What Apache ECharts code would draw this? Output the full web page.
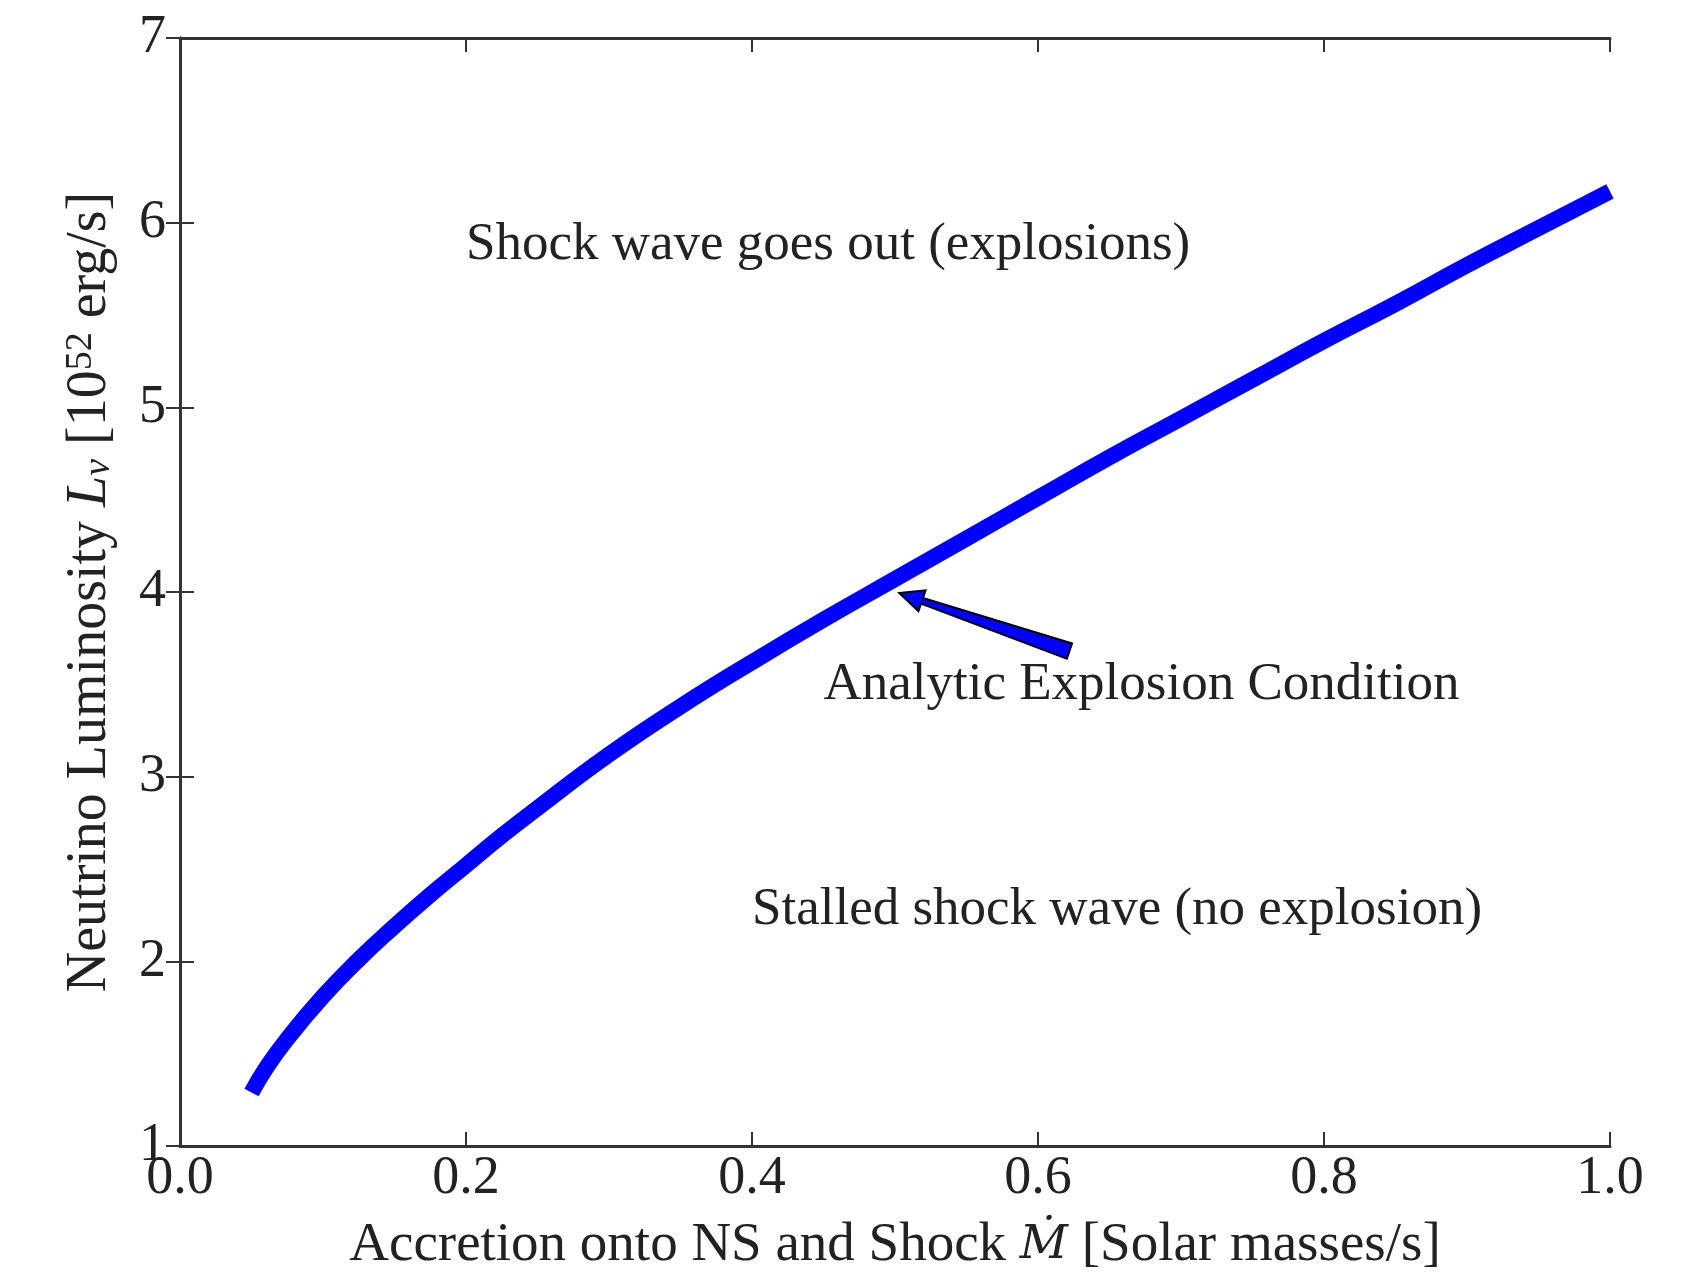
<!DOCTYPE html>
<html>
<head>
<meta charset="utf-8">
<title>Explosion condition</title>
<script src="https://cdn.jsdelivr.net/npm/echarts@6/dist/echarts.min.js"></script>
<style>
  html, body { margin: 0; padding: 0; background: #fff; }
  #chart { width: 1689px; height: 1282px; }
</style>
</head>
<body>
<div id="chart"></div>
<script>
// accretion rate [Msun/s] and critical luminosity [1e52 erg/s]
const mdot = [0.05, 0.06, 0.075, 0.1, 0.125, 0.15, 0.175, 0.2, 0.225, 0.25, 0.3, 0.35, 0.4, 0.45, 0.5,
  0.55, 0.6, 0.65, 0.7, 0.75, 0.8, 0.85, 0.9, 0.95, 1.0]
const lum = [1.29, 1.42, 1.58, 1.81, 2.01, 2.19, 2.36, 2.52, 2.68, 2.83, 3.12, 3.38, 3.62, 3.85, 4.07,
  4.29, 4.51, 4.73, 4.94, 5.15, 5.36, 5.56, 5.77, 5.97, 6.17]

const xTicks = [0.0, 0.2, 0.4, 0.6, 0.8, 1.0]
const yTicks = [1, 2, 3, 4, 5, 6, 7]

// annotations in data coords (text baseline-left)
const notes = [
  { text: 'Shock wave goes out (explosions)', pos: [0.2, 5.8] },
  { text: 'Analytic Explosion Condition', pos: [0.45, 3.42] },
  { text: 'Stalled shock wave (no explosion)', pos: [0.4, 2.2] }
]
const arrowTip = [0.503, 3.995]
const arrowTail = [0.622, 3.68]

const FONT = "'Liberation Serif', 'DejaVu Serif', serif"
const FS = 54
const INK = '#222'
const AXIS = '#333'

const chart = echarts.init(document.getElementById('chart'))

const baseAxis = {
  type: 'value',
  axisLine: { show: true, lineStyle: { color: AXIS, width: 3 } },
  axisTick: { show: true, inside: true, length: 14, lineStyle: { color: AXIS, width: 2 } },
  splitLine: { show: false }
}

chart.setOption({
  animation: false,
  backgroundColor: '#fff',
  grid: { left: 180, right: 79, top: 38, bottom: 136 },
  xAxis: [
    Object.assign({}, baseAxis, {
      position: 'bottom',
      min: xTicks[0],
      max: xTicks[xTicks.length - 1],
      interval: 0.2,
      axisLabel: {
        margin: 6,
        fontFamily: FONT, fontSize: FS, color: INK,
        formatter: v => v.toFixed(1)
      },
      name: 'Accretion onto NS and Shock {it|Ṁ} [Solar masses/s]',
      nameLocation: 'middle',
      nameGap: 72,
      nameTextStyle: {
        fontFamily: FONT, fontSize: 55, color: INK,
        rich: { it: { fontFamily: "'DejaVu Serif', serif", fontSize: 47, fontStyle: 'italic', color: INK } }
      }
    }),
    Object.assign({}, baseAxis, {
      position: 'top',
      min: xTicks[0],
      max: xTicks[xTicks.length - 1],
      interval: 0.2,
      axisLabel: { show: false }
    })
  ],
  yAxis: [
    Object.assign({}, baseAxis, {
      position: 'left',
      min: yTicks[0],
      max: yTicks[yTicks.length - 1],
      interval: 1,
      axisLabel: { margin: 14, fontFamily: FONT, fontSize: FS, color: INK },
      name: 'Neutrino Luminosity {it|L}{sub|ν} [10{sup|52} erg/s]',
      nameLocation: 'middle',
      nameRotate: 90,
      nameGap: 62,
      nameTextStyle: {
        fontFamily: FONT, fontSize: 56, color: INK,
        rich: {
          it: { fontFamily: FONT, fontSize: 56, fontStyle: 'italic', color: INK },
          sub: { fontFamily: FONT, fontSize: 38, fontStyle: 'italic', color: INK, verticalAlign: 'bottom' },
          sup: { fontFamily: FONT, fontSize: 38, color: INK, verticalAlign: 'top' }
        }
      }
    }),
    Object.assign({}, baseAxis, {
      position: 'right',
      min: yTicks[0],
      max: yTicks[yTicks.length - 1],
      interval: 1,
      axisLabel: { show: false }
    })
  ],
  series: [{
    type: 'line',
    data: mdot.map((m, i) => [m, lum[i]]),
    smooth: 0.5,
    showSymbol: false,
    clip: true,
    lineStyle: { color: '#0000ff', width: 16, cap: 'butt' }
  }]
})

function drawAnnotations() {
  const toPx = p => chart.convertToPixel({ xAxisIndex: 0, yAxisIndex: 0 }, p)
  const els = notes.map(n => {
    const p = toPx(n.pos)
    return {
      type: 'text',
      x: p[0],
      y: p[1] + 12,
      style: {
        text: n.text,
        font: '53px ' + FONT,
        fill: INK,
        align: 'left',
        verticalAlign: 'bottom'
      },
      z: 10
    }
  })

  // wedge-shaped annotation arrow (blue fill, black edge)
  const t = toPx(arrowTip)
  const b = toPx(arrowTail)
  const dx = t[0] - b[0]
  const dy = t[1] - b[1]
  const len = Math.sqrt(dx * dx + dy * dy)
  const ux = dx / len, uy = dy / len
  const nx = -uy, ny = ux
  const headLen = 24, headHalf = 11, neckHalf = 3, tailHalf = 8
  const hb = [t[0] - ux * headLen, t[1] - uy * headLen]
  const pt = (o, d) => [o[0] + nx * d, o[1] + ny * d]
  els.push({
    type: 'polygon',
    shape: {
      points: [
        t,
        pt(hb, headHalf),
        pt(hb, neckHalf),
        pt(b, tailHalf),
        pt(b, -tailHalf),
        pt(hb, -neckHalf),
        pt(hb, -headHalf)
      ]
    },
    style: { fill: '#0000ff', stroke: '#000', lineWidth: 2 },
    z: 11
  })

  chart.setOption({ graphic: els })
}

drawAnnotations()
</script>
</body>
</html>
